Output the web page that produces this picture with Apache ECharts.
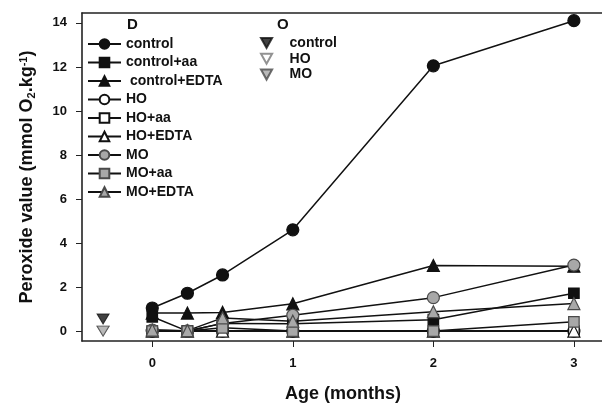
<!DOCTYPE html>
<html><head><meta charset="utf-8">
<script src="https://cdn.jsdelivr.net/npm/echarts@6/dist/echarts.min.js"></script>
<style>html,body{margin:0;padding:0;background:#fff}#c{width:602px;height:405px}</style>
</head><body><div id="c"></div>
<script>
// Data
const ages = [0, 0.25, 0.5, 1, 2, 3];
const dControl      = [1.05, 1.72, 2.55, 4.6, 12.05, 14.1];
const dControlAa    = [0.65, 0.0, 0.35, 0.33, 0.52, 1.72];
const dControlEDTA  = [0.82, 0.82, 0.85, 1.24, 2.98, 2.95];
const dHO           = [0, 0, 0, 0, 0, 0];
const dHOaa         = [0, 0, 0, 0, 0, 0];
const dHOEDTA       = [0, 0, 0, 0, 0, 0];
const dMO           = [0.05, 0.0, 0.35, 0.72, 1.52, 3.0];
const dMOaa         = [0.0, 0.0, 0.15, 0.0, 0.0, 0.42];
const dMOEDTA       = [0.05, 0.02, 0.6, 0.45, 0.88, 1.25];
const oAge = -0.35;
const oControl = 0.55, oHO = 0, oMO = 0;
const yTicks = [0, 2, 4, 6, 8, 10, 12, 14];
const xTicks = [0, 1, 2, 3];

const FONT = 'Liberation Sans';
const BLACK = '#111', GREY = '#a8a8a8', GREYB = '#4a4a4a', WHITE = '#fff';
const DOWN_TRI = 'path://M0,0 L10,0 L5,9 Z';

function pairs(v){ return ages.map((a,i)=>[a, v[i]]); }
function lineS(name, vals, symbol, fill, border){
  return {name, type:'line', data:pairs(vals), symbol, symbolSize: symbol==='circle'?12:(symbol==='rect'?10.5:12),
    lineStyle:{color:BLACK, width:1.5}, itemStyle:{color:fill, borderColor:border, borderWidth:1.2},
    emphasis:{disabled:true}, z:2};
}
function oS(name, val, fill, border){
  return {name, type:'scatter', data:[[oAge, val]], symbol:DOWN_TRI, symbolSize:[12,10],
    itemStyle:{color:fill, borderColor:border, borderWidth:1}, emphasis:{disabled:true}};
}
const dNames = ['D control','D control+aa','D  control+EDTA','D HO','D HO+aa','D HO+EDTA','D MO','D MO+aa','D MO+EDTA'];
const oNames = ['O control','O HO','O MO'];
const series = [
  lineS(dNames[0], dControl, 'circle', BLACK, BLACK),
  lineS(dNames[1], dControlAa, 'rect', BLACK, BLACK),
  lineS(dNames[2], dControlEDTA, 'triangle', BLACK, BLACK),
  lineS(dNames[3], dHO, 'circle', WHITE, BLACK),
  lineS(dNames[4], dHOaa, 'rect', WHITE, BLACK),
  lineS(dNames[5], dHOEDTA, 'triangle', WHITE, BLACK),
  lineS(dNames[6], dMO, 'circle', GREY, GREYB),
  lineS(dNames[7], dMOaa, 'rect', GREY, GREYB),
  lineS(dNames[8], dMOEDTA, 'triangle', GREY, GREYB),
  oS(oNames[0], oControl, BLACK, BLACK),
  oS(oNames[1], oHO, WHITE, '#777'),
  oS(oNames[2], oMO, GREY, GREYB)
];
const labelStyle = {fontFamily:FONT, fontWeight:'bold', fontSize:13, color:BLACK};
const legendStyle = {fontFamily:FONT, fontWeight:'bold', fontSize:14, color:BLACK};
const chart = echarts.init(document.getElementById('c'), null, {renderer:'canvas'});
chart.setOption({
  animation:false,
  backgroundColor:'#fff',
  grid:{left:82, top:13, width:522, height:328},
  xAxis:[{
    type:'value', min:-0.5, max:3.2, position:'bottom',
    axisLine:{onZero:false, lineStyle:{color:'#222', width:1.6}},
    axisTick:{show:true, length:6, customValues:xTicks, lineStyle:{color:'#222'}},
    axisLabel:Object.assign({customValues:xTicks, margin:16}, labelStyle),
    splitLine:{show:false}
  },{
    type:'value', min:-0.5, max:3.2, position:'top',
    axisLine:{onZero:false, lineStyle:{color:'#222', width:1.6}}, axisTick:{show:false}, axisLabel:{show:false}, splitLine:{show:false}
  }],
  yAxis:{
    type:'value', min:-0.45, max:14.45,
    axisLine:{show:true, onZero:false, lineStyle:{color:'#222', width:1.6}},
    axisTick:{show:true, length:6, customValues:yTicks, lineStyle:{color:'#222'}},
    axisLabel:Object.assign({customValues:yTicks, margin:15}, labelStyle),
    splitLine:{show:false},
    name:'{a|Peroxide value (mmol O}{s|2}{a|.kg}{p|-1}{a|)}',
    nameLocation:'middle', nameRotate:90, nameGap:45,
    nameTextStyle:{rich:{
      a:{fontFamily:FONT, fontWeight:'bold', fontSize:18, color:BLACK},
      s:{fontFamily:FONT, fontWeight:'bold', fontSize:11, color:BLACK, verticalAlign:'bottom', padding:[8,0,0,0]},
      p:{fontFamily:FONT, fontWeight:'bold', fontSize:11, color:BLACK, verticalAlign:'top', padding:[0,0,8,0]}
    }}
  },
  legend:[{
    data:dNames, orient:'vertical', left:82, top:32, itemWidth:33, itemHeight:12, itemGap:4.5,
    formatter:n=>n.slice(2), textStyle:legendStyle, selectedMode:false
  },{
    data:oNames.map(n=>({name:n, icon:DOWN_TRI})), orient:'vertical', left:255, top:31, itemWidth:12, itemHeight:10, itemGap:1.8,
    formatter:n=>n.slice(2), textStyle:Object.assign({padding:[0,0,0,12]}, legendStyle), selectedMode:false
  }],
  graphic:[
    {type:'text', left:127, top:17, style:{text:'D', font:'bold 15px "Liberation Sans"', fill:BLACK}},
    {type:'text', left:277, top:17, style:{text:'O', font:'bold 15px "Liberation Sans"', fill:BLACK}},
    {type:'text', x:343, y:394, style:{text:'Age (months)', font:'bold 18px "Liberation Sans"', fill:BLACK, align:'center', verticalAlign:'middle'}}
  ],
  series
});
</script></body></html>
